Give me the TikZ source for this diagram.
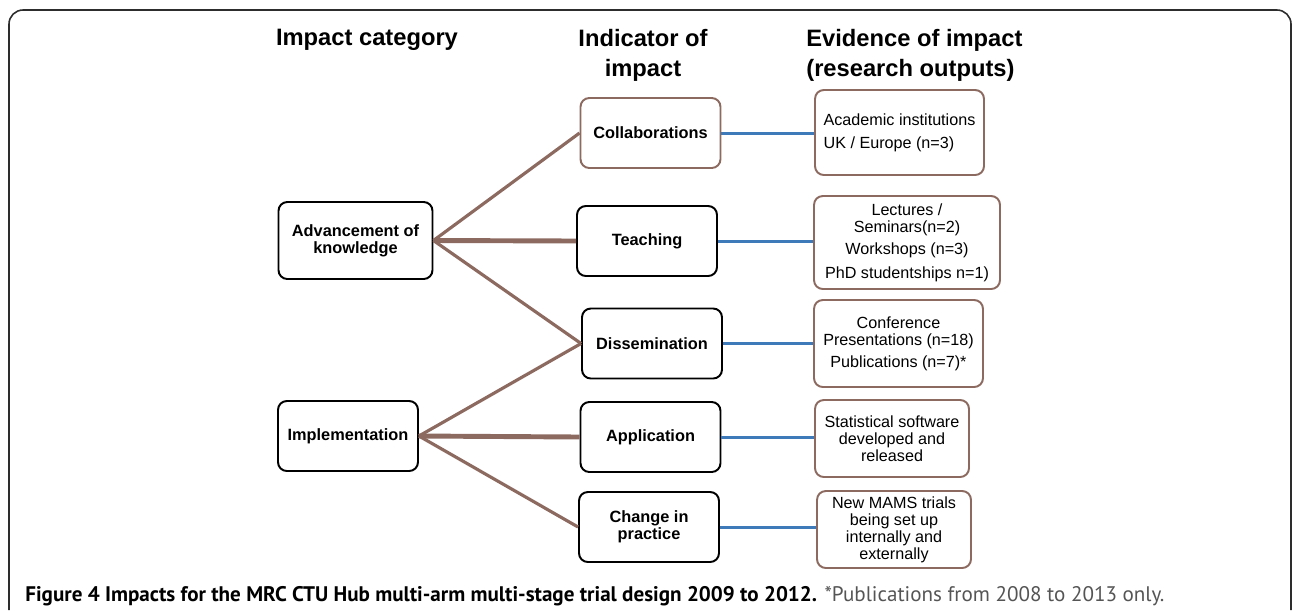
\documentclass[tikz,border=0pt]{standalone}
\usepackage{fontspec}
\setmainfont{Liberation Sans}
\newfontfamily\capfont{PT Sans}
\definecolor{linkbrown}{RGB}{140,106,96}
\definecolor{linkblue}{RGB}{62,122,186}
\definecolor{capgray}{RGB}{85,85,85}
\definecolor{framegray}{RGB}{45,45,45}

\begin{document}
\begin{tikzpicture}[x=0.02cm, y=-0.02cm,
    headtext/.style={font=\fontsize{13.5}{17}\selectfont\bfseries, inner sep=0pt},
    catbox/.style={draw=black, line width=1.1pt, rounded corners=5pt, align=center, inner sep=0pt,
      font=\fontsize{9.3}{9.6}\selectfont\bfseries},
    indbox/.style={catbox, minimum width=2.8cm, minimum height=1.4cm},
    evbox/.style={draw=linkbrown, line width=1.1pt, rounded corners=5pt, align=center, inner sep=0pt,
      font=\fontsize{9.2}{9.7}\selectfont},
    twig/.style={draw=linkbrown, line width=1.8pt},
    trunk/.style={draw=linkbrown, line width=2.8pt},
    evlink/.style={draw=linkblue, line width=1.7pt}]
  \useasboundingbox (0,0) rectangle (1292,610);
  \draw[framegray, line width=0.9pt, rounded corners=8pt] (9,610) -- (9,10) -- (1291,10) -- (1291,610);

  % column headings
  \node[headtext] (hcat) at (367,40) {Impact category};
  \node[headtext, align=center] (hind) at (643,55) {Indicator of\\impact};
  \node[headtext, align=left, anchor=west] (hev) at (806,55) {Evidence of impact\\(research outputs)};

  % impact categories
  \node[catbox, minimum width=3.08cm, minimum height=1.54cm] (adv) at (355.5,240.5) {Advancement of\\knowledge};
  \node[catbox, minimum width=2.8cm, minimum height=1.4cm] (impl) at (348,436) {Implementation};

  % indicators
  \node[indbox, draw=linkbrown] (collab) at (650.5,133) {Collaborations};
  \node[indbox] (teach) at (647,241) {Teaching};
  \node[indbox] (dissem) at (652,343.5) {Dissemination};
  \node[indbox] (appl) at (650.5,437) {Application};
  \node[indbox] (change) at (649,527) {Change in\\practice};

  % evidence
  \node[evbox, align=left, minimum width=3.38cm, minimum height=1.7cm] (acad) at (899.5,132.5)
    {Academic institutions\\[3.6pt]UK / Europe (n=3)};
  \node[evbox, minimum width=3.72cm, minimum height=1.86cm] (lect) at (907,242.5)
    {Lectures /\\Seminars(n=2)\\[3pt]Workshops (n=3)\\[3.6pt]PhD studentships n=1)};
  \node[evbox, minimum width=3.38cm, minimum height=1.74cm] (conf) at (898.5,343.5)
    {Conference\\Presentations (n=18)\\[3pt]Publications (n=7)*};
  \node[evbox, minimum width=3.08cm, minimum height=1.54cm] (stat) at (892,438.5)
    {Statistical software\\developed and\\released};
  \node[evbox, minimum width=3.08cm, minimum height=1.54cm] (mams) at (894,529.5)
    {New MAMS trials\\being set up\\internally and\\externally};

  \draw[twig] (adv.east) -- (collab.west);
  \draw[trunk] (adv.east) -- (teach.west);
  \draw[twig] (adv.east) -- (dissem.west);
  \draw[twig] (impl.east) -- (dissem.west);
  \draw[trunk] (impl.east) -- (appl.west);
  \draw[twig] (impl.east) -- (change.west);

  \draw[evlink] (collab.east) -- (collab.east -| acad.west);
  \draw[evlink] (teach.east) -- (teach.east -| lect.west);
  \draw[evlink] (dissem.east) -- (dissem.east -| conf.west);
  \draw[evlink] (appl.east) -- (appl.east -| stat.west);
  \draw[evlink] (change.east) -- (change.east -| mams.west);

  \node[anchor=base west, inner sep=0pt] (caption) at (25,601)
    {\capfont\fontsize{12}{14}\selectfont\textbf{Figure 4 Impacts for the MRC CTU Hub multi-arm multi-stage trial design 2009 to 2012.} {\color{capgray}*Publications from 2008 to 2013 only.}};
\end{tikzpicture}
\end{document}
